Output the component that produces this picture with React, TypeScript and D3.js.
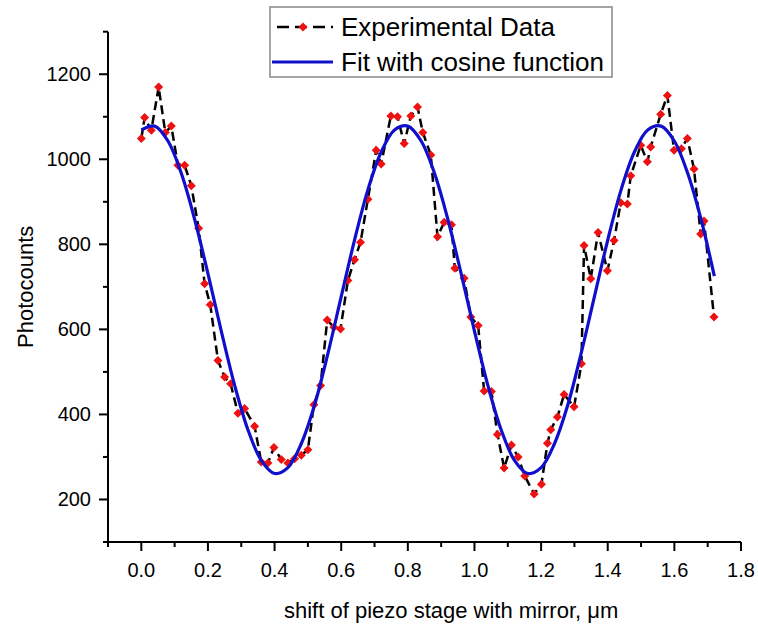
import React from "react";
import * as d3 from "d3";

const expX = [0.000,0.010,0.030,0.052,0.072,0.090,0.110,0.130,0.150,0.172,0.190,0.207,0.230,0.250,0.268,0.290,0.310,0.340,0.360,0.380,0.398,0.420,0.440,0.460,0.480,0.500,0.518,0.538,0.558,0.578,0.598,0.620,0.640,0.658,0.680,0.705,0.720,0.749,0.769,0.789,0.809,0.829,0.845,0.869,0.889,0.909,0.931,0.941,0.969,0.989,1.011,1.029,1.051,1.069,1.089,1.111,1.131,1.151,1.179,1.201,1.219,1.229,1.249,1.269,1.299,1.321,1.329,1.349,1.371,1.399,1.419,1.439,1.459,1.469,1.499,1.519,1.529,1.559,1.579,1.599,1.621,1.639,1.659,1.679,1.689,1.719];
const expY = [1049,1098,1068,1170,1063,1078,986,986,938,838,707,658,527,488,472,403,414,372,288,286,322,294,286,296,304,317,423,468,622,605,601,715,764,805,906,1021,989,1102,1100,1037,1102,1123,1063,1010,818,852,846,744,720,629,609,455,454,353,274,328,300,255,213,236,332,364,394,447,418,519,797,719,828,738,809,898,895,961,1033,994,1029,1106,1150,1021,1025,1049,977,824,855,629];

const fitX = [0,0.04,0.08,0.12,0.16,0.20,0.24,0.28,0.32,0.36,0.40,0.44,0.48,0.52,0.56,0.60,0.64,0.68,0.72,0.76,0.80,0.84,0.88,0.92,0.96,1.00,1.04,1.08,1.12,1.16,1.20,1.24,1.28,1.32,1.36,1.40,1.44,1.48,1.52,1.56,1.60,1.64,1.68,1.72];
const fitY = [1069,1078,1043,967,859,731,596,469,364,292,261,275,331,422,543,677,810,928,1017,1069,1078,1043,967,859,731,596,469,364,292,261,275,331,422,543,677,810,928,1017,1069,1078,1043,967,859,725];

const xMajor = [0,0.2,0.4,0.6,0.8,1.0,1.2,1.4,1.6,1.8];
const xMinor = [-0.1,0.1,0.3,0.5,0.7,0.9,1.1,1.3,1.5,1.7];
const yMajor = [200,400,600,800,1000,1200];
const yMinor = [100,300,500,700,900,1100,1300];

const legendLabels = ["Experimental Data", "Fit with cosine function"];
const xTitle = "shift of piezo stage with mirror, \u03bcm";
const yTitle = "Photocounts";

const FONT = "'Liberation Sans', Arial, sans-serif";
const RED = "#ee1111";
const BLUE = "#1010cc";

export default function App() {
  const W = 758, H = 628;
  const x = d3.scaleLinear().domain([-0.1, 1.8]).range([108, 741]);
  const y = d3.scaleLinear().domain([100, 1300]).range([542, 31.7]);

  const expPts = expX.map((v, i) => [v, expY[i]] as [number, number]);
  const fitPts = fitX.map((v, i) => [v, fitY[i]] as [number, number]);

  const line = d3.line<[number, number]>().x(d => x(d[0])).y(d => y(d[1]));
  const fitLine = d3.line<[number, number]>().x(d => x(d[0])).y(d => y(d[1])).curve(d3.curveCatmullRom);

  const diamond = (cx: number, cy: number, r: number) =>
    `M${cx},${cy - r}L${cx + r},${cy}L${cx},${cy + r}L${cx - r},${cy}Z`;

  const x0 = x.range()[0], x1 = x.range()[1];
  const yb = y.range()[0], yt = y.range()[1];

  return (
    <svg width={W} height={H} style={{ position: "absolute", left: 0, top: 0, background: "#fff" }} fontFamily={FONT}>
      <rect x={0} y={0} width={W} height={H} fill="#fff" />
      {/* data */}
      <path d={line(expPts) || ""} fill="none" stroke="#000" strokeWidth={2.5} strokeDasharray="9,5" />
      {expPts.map((p, i) => (
        <path key={i} d={diamond(x(p[0]), y(p[1]), 4.5)} fill={RED} />
      ))}
      <path d={fitLine(fitPts) || ""} fill="none" stroke={BLUE} strokeWidth={3.2} />

      {/* axes */}
      <line x1={x0} x2={x1} y1={yb} y2={yb} stroke="#000" strokeWidth={2} />
      <line x1={x0} x2={x0} y1={yb} y2={yt} stroke="#000" strokeWidth={2} />
      {xMajor.map(v => (
        <g key={"xM" + v}>
          <line x1={x(v)} x2={x(v)} y1={yb} y2={yb + 9} stroke="#000" strokeWidth={2} />
          <text x={x(v)} y={577} fontSize={20} textAnchor="middle" fill="#000">{d3.format(".1f")(v)}</text>
        </g>
      ))}
      {xMinor.map(v => (
        <line key={"xm" + v} x1={x(v)} x2={x(v)} y1={yb} y2={yb + 5} stroke="#000" strokeWidth={2} />
      ))}
      {yMajor.map(v => (
        <g key={"yM" + v}>
          <line x1={x0} x2={x0 - 9} y1={y(v)} y2={y(v)} stroke="#000" strokeWidth={2} />
          <text x={91} y={y(v) + 7} fontSize={20} textAnchor="end" fill="#000">{v}</text>
        </g>
      ))}
      {yMinor.map(v => (
        <line key={"ym" + v} x1={x0} x2={x0 - 5} y1={y(v)} y2={y(v)} stroke="#000" strokeWidth={2} />
      ))}

      {/* titles */}
      <text x={284} y={618} fontSize={22} fill="#000">{xTitle}</text>
      <text transform={`translate(33,${(yb + yt) / 2}) rotate(-90)`} fontSize={22} textAnchor="middle" fill="#000">{yTitle}</text>

      {/* legend */}
      <rect x={270} y={7} width={342} height={70} fill="#fff" stroke="#888" strokeWidth={1.5} />
      <line x1={277} x2={333} y1={27} y2={27} stroke="#000" strokeWidth={2.5} strokeDasharray="12,6" />
      <path d={diamond(303, 27, 4.5)} fill={RED} />
      <text x={341} y={36} fontSize={26} fill="#000">{legendLabels[0]}</text>
      <line x1={272} x2={333} y1={62} y2={62} stroke={BLUE} strokeWidth={3.2} />
      <text x={341} y={71} fontSize={26} fill="#000">{legendLabels[1]}</text>
    </svg>
  );
}
